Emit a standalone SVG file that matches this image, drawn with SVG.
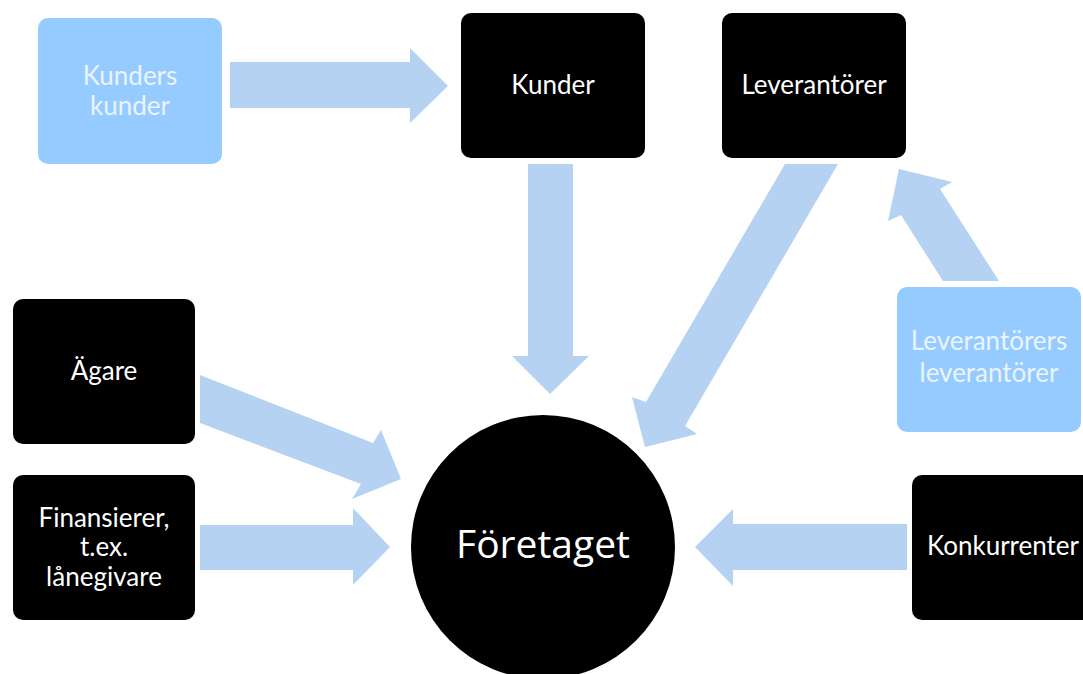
<svg xmlns="http://www.w3.org/2000/svg" width="1083" height="674" viewBox="0 0 1083 674">
<style>
.dark{fill:#000000}
.light{fill:#96CBFF}
.arr{fill:#B5D2F3}
text{font-family:Lato,"Open Sans",sans-serif;text-anchor:middle}
.tw{fill:#FFFFFF;font-size:26px}
.tl{fill:#EAF4FF;font-size:26px}
.big{fill:#FFFFFF;font-size:39px;font-family:"Open Sans",Lato,sans-serif}
</style>
<rect width="1083" height="674" fill="#FFFFFF"/>
<g id="connectors">
<polygon class="arr" points="230,62 410,62 410,48 448,86 410,123 410,108 230,108"/>
<polygon class="arr" points="528,164 573,164 573,356 589,356 550,394 512,356 528,356"/>
<polygon class="arr" points="785,164 838,164 685,426 697,434 645,447 632,397 646,402"/>
<polygon class="arr" points="943,281 999,281 940,189 952,182 899,169 888,221 901,215"/>
<polygon class="arr" points="200,375 373,443 381,430 401,479 352,499 361,484 200,423"/>
<polygon class="arr" points="200,525 353,525 353,508 390,547 353,585 353,570 200,570"/>
<polygon class="arr" points="907,524 733,524 733,509 695,547 733,586 733,570 907,570"/>
</g>
<g id="kunders-kunder">
<rect class="light" x="38" y="18" width="184" height="146" rx="10"/>
<text class="tl" x="130" y="85">Kunders</text>
<text class="tl" x="130" y="115">kunder</text>
</g>
<g id="kunder">
<rect class="dark" x="461" y="13" width="184" height="145" rx="10"/>
<text class="tw" x="553" y="94">Kunder</text>
</g>
<g id="leverantorer">
<rect class="dark" x="722" y="13" width="184" height="145" rx="10"/>
<text class="tw" x="814" y="94">Leverantörer</text>
</g>
<g id="leverantorers-leverantorer">
<rect class="light" x="897" y="287" width="184" height="145" rx="10"/>
<text class="tl" x="989" y="350">Leverantörers</text>
<text class="tl" x="989" y="382">leverantörer</text>
</g>
<g id="agare">
<rect class="dark" x="13" y="299" width="182" height="145" rx="10"/>
<text class="tw" x="104" y="380">Ägare</text>
</g>
<g id="finansierer">
<rect class="dark" x="13" y="475" width="182" height="145" rx="10"/>
<text class="tw" x="104" y="527">Finansierer,</text>
<text class="tw" x="104" y="556">t.ex.</text>
<text class="tw" x="104" y="586">lånegivare</text>
</g>
<g id="konkurrenter">
<rect class="dark" x="912" y="475" width="184" height="145" rx="10"/>
<text class="tw" x="1003" y="555">Konkurrenter</text>
</g>
<g id="foretaget">
<circle class="dark" cx="543" cy="547" r="132"/>
<text class="big" x="543" y="558">Företaget</text>
</g>
</svg>
